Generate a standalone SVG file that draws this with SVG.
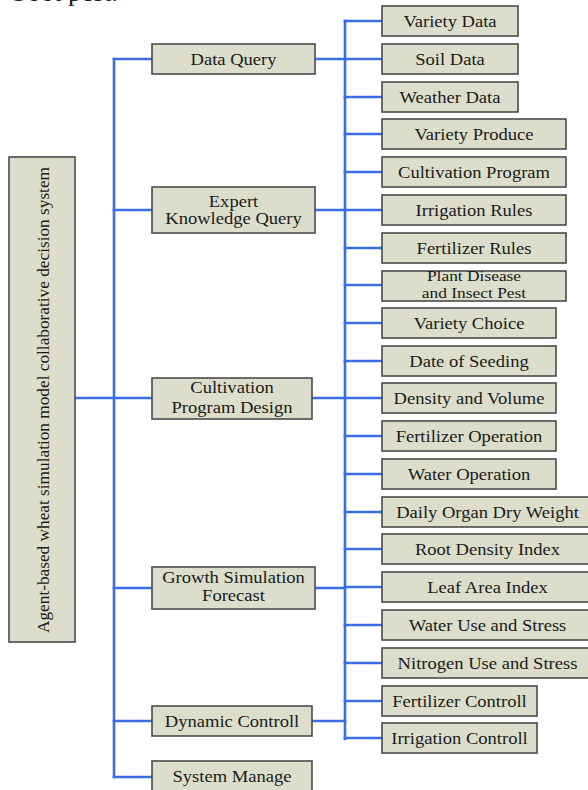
<svg xmlns="http://www.w3.org/2000/svg" width="588" height="790" viewBox="0 0 588 790">
  <style>
    .box { fill: #dcdecb; stroke: #4a4a4a; stroke-width: 1.6; }
    .lbl { font-family: "Liberation Serif", "Times New Roman", serif; font-size: 16px; fill: #1a1a1a; text-anchor: middle; }
    .sm { font-size: 15px; }
    .wire { fill: none; stroke: #3a6ee6; stroke-width: 2.6; stroke-linecap: square; }
  </style>
  <rect width="588" height="790" fill="#ffffff"/>

  <!-- tail of the preceding paragraph, clipped at the top edge -->
  <text x="12" y="1" font-family="Liberation Serif, serif" font-size="24" fill="#1a1a1a" textLength="106" lengthAdjust="spacingAndGlyphs">Soot pest.</text>

  <!-- connectors -->
  <g id="connectors" class="wire">
    <!-- root to first spine -->
    <path d="M75,398 H114"/>
    <path d="M114,59 V777"/>
    <path d="M114,59 H152 M114,210 H152 M114,398 H152 M114,588 H152 M114,721 H152 M114,777 H152"/>
    <!-- first level to second spine -->
    <path d="M345,21 V739"/>
    <path d="M315,59 H345 M315,210 H345 M312,398 H345 M315,588 H345 M312,721 H345"/>
    <!-- second spine to leaves -->
    <path d="M345,21 H382 M345,59 H382 M345,97 H382 M345,134 H382 M345,172 H382 M345,210 H382 M345,248 H382 M345,285 H382 M345,323 H382 M345,361 H382 M345,398 H382 M345,436 H382 M345,474 H382 M345,512 H382 M345,549 H382 M345,587 H382 M345,625 H382 M345,663 H382 M345,701 H382 M345,738 H382"/>
  </g>

  <!-- root -->
  <g id="root">
    <rect class="box" x="9" y="157" width="66" height="485"/>
    <text class="lbl" transform="translate(49,400) rotate(-90)" font-size="17" textLength="466" lengthAdjust="spacingAndGlyphs">Agent-based wheat simulation model collaborative decision system</text>
  </g>

  <!-- first level -->
  <g id="data-query">
    <rect class="box" x="152" y="44" width="163" height="30"/>
    <text class="lbl" transform="translate(233.5,64.5) scale(1.16,1)">Data Query</text>
  </g>
  <g id="expert-knowledge-query">
    <rect class="box" x="152" y="187" width="163" height="46"/>
    <text class="lbl" transform="translate(233.5,206.5) scale(1.16,1)">Expert</text>
    <text class="lbl" transform="translate(233.5,224) scale(1.16,1)">Knowledge Query</text>
  </g>
  <g id="cultivation-program-design">
    <rect class="box" x="152" y="378" width="160" height="41"/>
    <text class="lbl" transform="translate(232,393) scale(1.16,1)">Cultivation</text>
    <text class="lbl" transform="translate(232,412.5) scale(1.16,1)">Program Design</text>
  </g>
  <g id="growth-simulation-forecast">
    <rect class="box" x="152" y="567" width="163" height="42"/>
    <text class="lbl" transform="translate(233.5,583) scale(1.16,1)">Growth Simulation</text>
    <text class="lbl" transform="translate(233.5,601) scale(1.16,1)">Forecast</text>
  </g>
  <g id="dynamic-controll">
    <rect class="box" x="152" y="706" width="160" height="30"/>
    <text class="lbl" transform="translate(232,726.5) scale(1.16,1)">Dynamic Controll</text>
  </g>
  <g id="system-manage">
    <rect class="box" x="152" y="761" width="160" height="34"/>
    <text class="lbl" transform="translate(232,782) scale(1.16,1)">System Manage</text>
  </g>

  <!-- second level -->
  <g id="variety-data">
    <rect class="box" x="382" y="6" width="136" height="30"/>
    <text class="lbl" transform="translate(450,26.5) scale(1.16,1)">Variety Data</text>
  </g>
  <g id="soil-data">
    <rect class="box" x="382" y="44" width="136" height="30"/>
    <text class="lbl" transform="translate(450,64.5) scale(1.16,1)">Soil Data</text>
  </g>
  <g id="weather-data">
    <rect class="box" x="382" y="82" width="136" height="30"/>
    <text class="lbl" transform="translate(450,102.5) scale(1.16,1)">Weather Data</text>
  </g>
  <g id="variety-produce">
    <rect class="box" x="382" y="119" width="184" height="30"/>
    <text class="lbl" transform="translate(474,139.5) scale(1.16,1)">Variety Produce</text>
  </g>
  <g id="cultivation-program">
    <rect class="box" x="382" y="157" width="184" height="30"/>
    <text class="lbl" transform="translate(474,177.5) scale(1.16,1)">Cultivation Program</text>
  </g>
  <g id="irrigation-rules">
    <rect class="box" x="382" y="195" width="184" height="30"/>
    <text class="lbl" transform="translate(474,215.5) scale(1.16,1)">Irrigation Rules</text>
  </g>
  <g id="fertilizer-rules">
    <rect class="box" x="382" y="233" width="184" height="30"/>
    <text class="lbl" transform="translate(474,253.5) scale(1.16,1)">Fertilizer Rules</text>
  </g>
  <g id="plant-disease">
    <rect class="box" x="382" y="271" width="184" height="30"/>
    <text class="lbl sm" transform="translate(474,280.5) scale(1.16,1)">Plant Disease</text>
    <text class="lbl sm" transform="translate(474,298) scale(1.16,1)">and Insect Pest</text>
  </g>
  <g id="variety-choice">
    <rect class="box" x="382" y="308" width="174" height="30"/>
    <text class="lbl" transform="translate(469,328.5) scale(1.16,1)">Variety Choice</text>
  </g>
  <g id="date-of-seeding">
    <rect class="box" x="382" y="346" width="174" height="30"/>
    <text class="lbl" transform="translate(469,366.5) scale(1.16,1)">Date of Seeding</text>
  </g>
  <g id="density-and-volume">
    <rect class="box" x="382" y="383" width="174" height="30"/>
    <text class="lbl" transform="translate(469,403.5) scale(1.16,1)">Density and Volume</text>
  </g>
  <g id="fertilizer-operation">
    <rect class="box" x="382" y="421" width="174" height="30"/>
    <text class="lbl" transform="translate(469,441.5) scale(1.16,1)">Fertilizer Operation</text>
  </g>
  <g id="water-operation">
    <rect class="box" x="382" y="459" width="174" height="30"/>
    <text class="lbl" transform="translate(469,479.5) scale(1.16,1)">Water Operation</text>
  </g>
  <g id="daily-organ-dry-weight">
    <rect class="box" x="382" y="497" width="210" height="30"/>
    <text class="lbl" transform="translate(487.5,517.5) scale(1.16,1)">Daily Organ Dry Weight</text>
  </g>
  <g id="root-density-index">
    <rect class="box" x="382" y="534" width="210" height="30"/>
    <text class="lbl" transform="translate(487.5,554.5) scale(1.16,1)">Root Density Index</text>
  </g>
  <g id="leaf-area-index">
    <rect class="box" x="382" y="572" width="210" height="30"/>
    <text class="lbl" transform="translate(487.5,592.5) scale(1.16,1)">Leaf Area Index</text>
  </g>
  <g id="water-use-and-stress">
    <rect class="box" x="382" y="610" width="210" height="30"/>
    <text class="lbl" transform="translate(487.5,630.5) scale(1.16,1)">Water Use and Stress</text>
  </g>
  <g id="nitrogen-use-and-stress">
    <rect class="box" x="382" y="648" width="210" height="30"/>
    <text class="lbl" transform="translate(487.5,668.5) scale(1.16,1)">Nitrogen Use and Stress</text>
  </g>
  <g id="fertilizer-controll">
    <rect class="box" x="382" y="686" width="155" height="30"/>
    <text class="lbl" transform="translate(459.5,706.5) scale(1.16,1)">Fertilizer Controll</text>
  </g>
  <g id="irrigation-controll">
    <rect class="box" x="382" y="723" width="155" height="30"/>
    <text class="lbl" transform="translate(459.5,743.5) scale(1.16,1)">Irrigation Controll</text>
  </g>
</svg>
